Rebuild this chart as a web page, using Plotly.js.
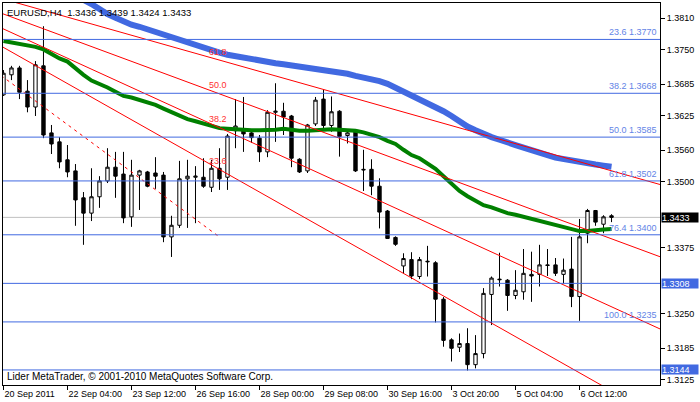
<!DOCTYPE html>
<html><head><meta charset="utf-8">
<script src="https://cdn.plot.ly/plotly-3.0.1.min.js"></script>
<style>html,body{margin:0;padding:0;background:#fff;}#chart{width:700px;height:402px;}</style>
</head><body><div id="chart"></div>
<script>
// ---- data (EURUSD H4) ----
const symbol = 'EURUSD';
const timeframe = 'H4';
const open  = [1.3665,1.3703,1.3716,1.3672,1.3642,1.3720,1.3593,1.3576,1.3542,1.3521,
               1.3470,1.3441,1.3472,1.3502,1.3528,1.3515,1.3434,1.3513,1.3519,1.3517,
               1.3513,1.3396,1.3418,1.3506,1.3509,1.3509,1.3490,1.3526,1.3509,1.3597,
               1.3597,1.3593,1.3583,1.3557,1.3632,1.3634,1.3625,1.3543,1.3521,1.3610,
               1.3657,1.3607,1.3634,1.3588,1.3597,1.3524,1.3524,1.3492,1.3445,1.3395,
               1.3341,1.3353,1.3321,1.3350,1.3347,1.3278,1.3201,1.3187,1.3194,1.3154,
               1.3175,1.3287,1.3316,1.3314,1.3285,1.3292,1.3325,1.3325,1.3343,1.3343,
               1.3325,1.3335,1.3283,1.3403,1.3446,1.3420,1.3436];
const high  = [1.3712,1.3720,1.3720,1.3693,1.3729,1.3795,1.3608,1.3585,1.3570,1.3534,
               1.3481,1.3526,1.3511,1.3564,1.3557,1.3557,1.3542,1.3523,1.3521,1.3547,
               1.3519,1.3436,1.3540,1.3542,1.3530,1.3545,1.3542,1.3564,1.3591,1.3657,
               1.3661,1.3598,1.3589,1.3636,1.3687,1.3650,1.3627,1.3545,1.3610,1.3661,
               1.3675,1.3662,1.3636,1.3598,1.3598,1.3561,1.3543,1.3507,1.3447,1.3397,
               1.3365,1.3367,1.3358,1.3379,1.3350,1.3282,1.3204,1.3213,1.3223,1.3210,
               1.3299,1.3321,1.3366,1.3316,1.3333,1.3373,1.3368,1.3381,1.3373,1.3356,
               1.3355,1.3396,1.3430,1.3449,1.3447,1.3437,1.3439];
const low   = [1.3663,1.3693,1.3657,1.3632,1.3625,1.3583,1.3553,1.3526,1.3509,1.3417,
               1.3381,1.3426,1.3451,1.3498,1.3470,1.3422,1.3415,1.3447,1.3490,1.3487,
               1.3386,1.3358,1.3413,1.3413,1.3422,1.3489,1.3481,1.3485,1.3485,1.3564,
               1.3557,1.3574,1.3538,1.3547,1.3576,1.3589,1.3528,1.3517,1.3517,1.3606,
               1.3598,1.3595,1.3548,1.3573,1.3519,1.3483,1.3475,1.3412,1.3392,1.3379,
               1.3327,1.3316,1.3316,1.3321,1.3234,1.3188,1.3160,1.3178,1.3143,1.3147,
               1.3166,1.3229,1.3302,1.3256,1.3278,1.3277,1.3273,1.3302,1.3322,1.3322,
               1.3308,1.3263,1.3237,1.3384,1.3417,1.3403,1.3424];
const close = [1.3706,1.3716,1.3670,1.3642,1.3722,1.3589,1.3572,1.3538,1.3519,1.3466,
               1.3441,1.3472,1.3502,1.3528,1.3511,1.3432,1.3513,1.3521,1.3492,1.3511,
               1.3396,1.3418,1.3506,1.3511,1.3511,1.3492,1.3526,1.3506,1.3587,1.3606,
               1.3591,1.3584,1.3557,1.3632,1.3634,1.3623,1.3545,1.3519,1.3608,1.3655,
               1.3607,1.3633,1.3586,1.3593,1.3521,1.3523,1.3492,1.3443,1.3393,1.3382,
               1.3355,1.3322,1.3353,1.3349,1.3278,1.3200,1.3185,1.3194,1.3154,1.3175,
               1.3289,1.3318,1.3315,1.3285,1.3295,1.3327,1.3322,1.3343,1.3342,1.3327,
               1.3333,1.3283,1.3396,1.3446,1.3424,1.3434,1.3433];
// moving averages
const maGreen = [1.3767,1.3764,1.3761,1.3758,1.3756,1.3751,1.3742,1.3734,1.3728,1.3715,
                 1.3703,1.3692,1.3686,1.3679,1.3671,1.3663,1.3660,1.3655,1.3650,1.3646,
                 1.3639,1.3632,1.3625,1.3619,1.3615,1.3611,1.3607,1.3602,1.3601,1.3600,
                 1.3598,1.3598,1.3598,1.3598,1.3599,1.3601,1.3599,1.3597,1.3597,1.3598,
                 1.3599,1.3600,1.3599,1.3598,1.3597,1.3594,1.3590,1.3585,1.3578,1.3572,
                 1.3561,1.3551,1.3545,1.3536,1.3525,1.3511,1.3496,1.3483,1.3473,1.3464,
                 1.3456,1.3452,1.3446,1.3441,1.3438,1.3434,1.3430,1.3426,1.3422,1.3418,
                 1.3415,1.3410,1.3407,1.3407,1.3409,1.3410,1.3411];
const maBlue  = [null,null,null,null,null,null,null,null,null,1.3850,
                 1.3845,1.3837,1.3827,1.3818,1.3811,1.3804,1.3798,1.3794,1.3789,1.3784,
                 1.3780,1.3775,1.3769,1.3763,1.3759,1.3755,1.3750,1.3745,1.3741,1.3738,
                 1.3736,1.3733,1.3730,1.3728,1.3725,1.3723,1.3721,1.3718,1.3716,1.3714,
                 1.3713,1.3711,1.3708,1.3705,1.3701,1.3698,1.3696,1.3691,1.3686,1.3679,
                 1.3671,1.3665,1.3658,1.3650,1.3644,1.3634,1.3625,1.3614,1.3605,1.3598,
                 1.3590,1.3585,1.3580,1.3576,1.3570,1.3565,1.3561,1.3556,1.3551,1.3546,
                 1.3543,1.3540,1.3537,1.3535,1.3533,1.3531,1.3529];
// time axis
const tickBars   = [0,8,16,24,32,40,48,56,64,72];
const tickLabels = ['20 Sep 2011','22 Sep 04:00','23 Sep 12:00','26 Sep 16:00','28 Sep 00:00',
                    '29 Sep 08:00','30 Sep 16:00','3 Oct 20:00','5 Oct 04:00','6 Oct 12:00'];
// price axis
const priceTicks = [1.3810,1.3750,1.3685,1.3625,1.3560,1.3500,1.3375,1.3250,1.3185,1.3125];
// Fibonacci retracement
const fibLevels = [23.6,38.2,50.0,61.8,76.4,100.0];
const fibPrices = [1.3770,1.3668,1.3585,1.3502,1.3400,1.3235];
// horizontal lines with price boxes
const hLines = [1.3308,1.3144];
const bidPrice = 1.3433;
// Fibonacci fan (start / end bar and price)
const fanStartBar = -21.4, fanStartPrice = 1.3938;
const fanEndBar = 26.8, fanEndPrice = 1.3398;
const fanLevels = [23.6,38.2,50.0,61.8];
const copyright = 'Lider MetaTrader, \u00a9 2001-2010 MetaQuotes Software Corp.';

// ---- chart ----
const N = open.length;
const bars = Array.from({length:N}, (_,i)=>i);
const FONT = 'Liberation Sans, Arial, sans-serif';
const ROYAL = '#4169E1';

const traces = [];
traces.push({type:'candlestick', x:bars, open:open, high:high, low:low, close:close,
  increasing:{line:{color:'#000',width:1}, fillcolor:'#ffffff'},
  decreasing:{line:{color:'#000',width:1}, fillcolor:'#000000'},
  whiskerwidth:0, hoverinfo:'skip'});
traces.push({type:'scatter', mode:'lines', x:bars, y:maGreen, line:{color:'#008000', width:4}, hoverinfo:'skip'});
traces.push({type:'scatter', mode:'lines', x:bars, y:maBlue, line:{color:ROYAL, width:6}, hoverinfo:'skip'});

const farBar = 95;
const annotations = [];
fanLevels.forEach(L => {
  const pL = fanEndPrice + (fanStartPrice - fanEndPrice) * L / 100;
  const slope = (pL - fanStartPrice) / (fanEndBar - fanStartBar);
  traces.push({type:'scatter', mode:'lines', x:[fanStartBar, farBar],
    y:[fanStartPrice, fanStartPrice + slope * (farBar - fanStartBar)],
    line:{color:'#ff0000', width:1}, hoverinfo:'skip'});
  annotations.push({x:fanEndBar, y:pL, xref:'x', yref:'y', text:L.toFixed(1), showarrow:false,
    xanchor:'center', yanchor:'middle', yshift:8, font:{family:FONT, size:9, color:'#ff3030'}});
});
traces.push({type:'scatter', mode:'lines', x:[fanStartBar, fanEndBar], y:[fanStartPrice, fanEndPrice],
  line:{color:'#ff0000', width:1, dash:'3px,4px'}, hoverinfo:'skip'});

const shapes = [];
shapes.push({type:'line', xref:'paper', x0:0, x1:1, yref:'y', y0:bidPrice, y1:bidPrice,
  line:{color:'#c0c0c0', width:1}, layer:'below'});
fibPrices.forEach((p,i) => {
  shapes.push({type:'line', xref:'paper', x0:0, x1:1, yref:'y', y0:p, y1:p, line:{color:ROYAL, width:1}, layer:'above'});
  annotations.push({xref:'paper', x:1, yref:'y', y:p, text:fibLevels[i].toFixed(1)+' '+p.toFixed(4),
    showarrow:false, xanchor:'right', yanchor:'bottom', xshift:-1, yshift:0,
    font:{family:FONT, size:9, color:'#6384e6'}});
});
hLines.forEach(p => {
  shapes.push({type:'line', xref:'paper', x0:0, x1:1, yref:'y', y0:p, y1:p, line:{color:ROYAL, width:1}, layer:'above'});
  annotations.push({xref:'paper', x:1, yref:'y', y:p, text:p.toFixed(4), showarrow:false,
    xanchor:'left', yanchor:'middle', xshift:1, width:36, height:9, align:'left', borderpad:0,
    bgcolor:ROYAL, font:{family:FONT, size:9, color:'#ffffff'}});
});
annotations.push({xref:'paper', x:1, yref:'y', y:bidPrice, text:bidPrice.toFixed(4), showarrow:false,
  xanchor:'left', yanchor:'middle', xshift:1, width:36, height:9, align:'left', borderpad:0,
  bgcolor:'#000000', font:{family:FONT, size:9, color:'#ffffff'}});

annotations.push({xref:'paper', yref:'paper', x:0, y:1, xanchor:'left', yanchor:'top', xshift:2, yshift:-2,
  text: symbol + ',' + timeframe + '\u00a0\u00a0' + [open[N-1],high[N-1],low[N-1],close[N-1]].map(v=>v.toFixed(4)).join(' '),
  showarrow:false, font:{family:FONT, size:9.5, color:'#000'}});
annotations.push({xref:'paper', yref:'paper', x:0, y:0, xanchor:'left', yanchor:'bottom', xshift:2, yshift:1,
  text: copyright, showarrow:false, font:{family:FONT, size:10, color:'#000'}});

const layout = {
  width:700, height:402, margin:{l:3, r:40, t:3, b:17},
  paper_bgcolor:'#ffffff', plot_bgcolor:'#ffffff', showlegend:false,
  boxgap:0.4,
  xaxis:{range:[-0.06, 82.06], tickvals:tickBars, ticktext:tickLabels, ticks:'outside', ticklen:4,
    tickcolor:'#000', ticklabelposition:'outside right', showgrid:false, zeroline:false,
    showline:true, mirror:true, linecolor:'#000', linewidth:1,
    tickfont:{family:FONT, size:9, color:'#000'}, rangeslider:{visible:false}, fixedrange:true},
  yaxis:{side:'right', range:[1.31155, 1.38390], tickvals:priceTicks, ticktext:priceTicks.map(v=>v.toFixed(4)),
    ticks:'outside', ticklen:4, tickcolor:'#000', showgrid:false, zeroline:false,
    showline:true, mirror:true, linecolor:'#000', linewidth:1,
    tickfont:{family:FONT, size:9, color:'#000'}, fixedrange:true},
  shapes:shapes, annotations:annotations
};
Plotly.newPlot('chart', traces, layout, {staticPlot:true, displayModeBar:false});
</script>
</body></html>
